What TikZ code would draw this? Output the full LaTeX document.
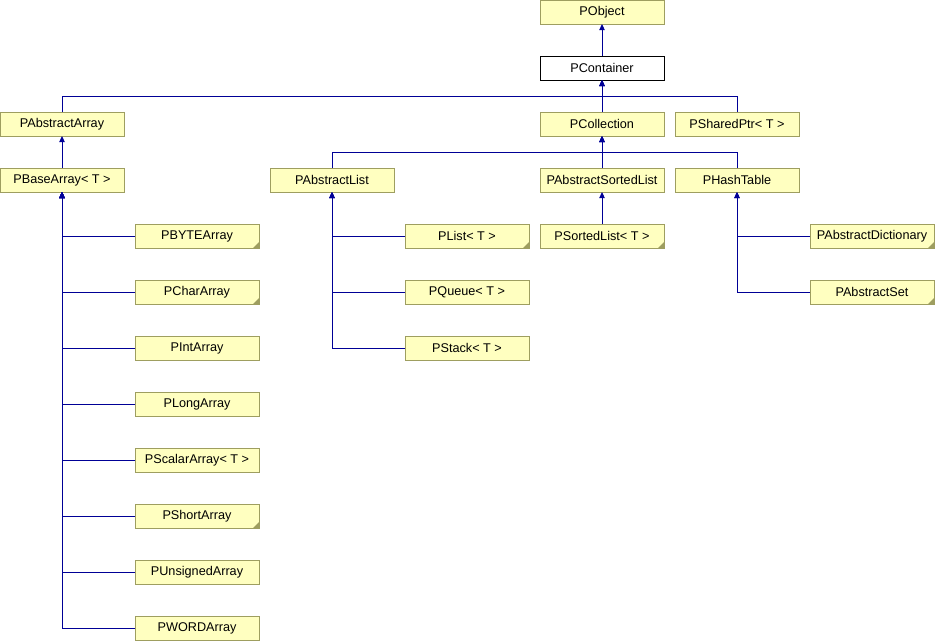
\documentclass[tikz,border=0pt]{standalone}
\usepackage{fontspec}
\setmainfont{Liberation Sans}
\usetikzlibrary{positioning,arrows.meta}

\definecolor{boxfill}{HTML}{FFFFC0}
\definecolor{boxline}{HTML}{9E9E60}
\definecolor{linkblue}{HTML}{000096}

\tikzset{
    klass/.style={draw=boxline, fill=boxfill, line width=0.75pt,
        minimum width=93pt, minimum height=18pt, inner sep=0pt, outer sep=0pt,
        font=\fontsize{9.5pt}{11pt}\selectfont},
    current/.style={klass, draw=black, fill=white},
    folded/.style={path picture={\fill[boxline] (path picture bounding box.south east)
        -- ++(-4.5pt,0) -- ++(4.5pt,4.5pt) -- cycle;}},
    isa/.style={draw=linkblue, line width=0.75pt, -{Triangle[width=4pt,length=4.5pt]}}
}

\begin{document}
\begin{tikzpicture}
        \useasboundingbox (0,0) rectangle (701.25pt,-480pt);

        \node [klass, anchor=north west] (obj) at (405pt,0) {PObject};
        \node [current, below=24pt of obj] (cont) {PContainer};
        \node [klass, below=24pt of cont] (coll) {PCollection};
        \node [klass, right=8.25pt of coll] (shptr) {PSharedPtr< T >};
        \node [klass, anchor=north west] (absarr) at (0,-84pt) {PAbstractArray};
        \node [klass, below=24pt of absarr] (basearr) {PBaseArray< T >};

        \node [klass, folded, below right=24pt and 8.25pt of basearr] (bytearr) {PBYTEArray};
        \node [klass, folded, below=24pt of bytearr] (chararr) {PCharArray};
        \node [klass, below=24pt of chararr] (intarr) {PIntArray};
        \node [klass, below=24pt of intarr] (longarr) {PLongArray};
        \node [klass, below=24pt of longarr] (scalarr) {PScalarArray< T >};
        \node [klass, folded, below=24pt of scalarr] (shortarr) {PShortArray};
        \node [klass, below=24pt of shortarr] (unsarr) {PUnsignedArray};
        \node [klass, below=24pt of unsarr] (wordarr) {PWORDArray};

        \node [klass, below=24pt of coll] (abssort) {PAbstractSortedList};
        \node [klass, left=109.5pt of abssort] (abslist) {PAbstractList};
        \node [klass, right=8.25pt of abssort] (hash) {PHashTable};

        \node [klass, folded, below right=24pt and 8.25pt of abslist] (list) {PList< T >};
        \node [klass, below=24pt of list] (queue) {PQueue< T >};
        \node [klass, below=24pt of queue] (stack) {PStack< T >};
        \node [klass, folded, below=24pt of abssort] (sorted) {PSortedList< T >};
        \node [klass, folded, below right=24pt and 8.25pt of hash] (dict) {PAbstractDictionary};
        \node [klass, folded, below=24pt of dict] (set) {PAbstractSet};

        \draw [isa] (cont) -- (obj);
        \draw [isa] (coll) -- (cont);
        \draw [isa] (absarr.north) |- ([yshift=-12pt]cont.south) -- (cont.south);
        \draw [isa] (shptr.north) |- ([yshift=-12pt]cont.south) -- (cont.south);
        \draw [isa] (basearr) -- (absarr);

        \draw [isa] (bytearr.west) -| (basearr.south);
        \draw [isa] (chararr.west) -| (basearr.south);
        \draw [isa] (intarr.west) -| (basearr.south);
        \draw [isa] (longarr.west) -| (basearr.south);
        \draw [isa] (scalarr.west) -| (basearr.south);
        \draw [isa] (shortarr.west) -| (basearr.south);
        \draw [isa] (unsarr.west) -| (basearr.south);
        \draw [isa] (wordarr.west) -| (basearr.south);

        \draw [isa] (abssort) -- (coll);
        \draw [isa] (abslist.north) |- ([yshift=-12pt]coll.south) -- (coll.south);
        \draw [isa] (hash.north) |- ([yshift=-12pt]coll.south) -- (coll.south);

        \draw [isa] (list.west) -| (abslist.south);
        \draw [isa] (queue.west) -| (abslist.south);
        \draw [isa] (stack.west) -| (abslist.south);
        \draw [isa] (sorted) -- (abssort);
        \draw [isa] (dict.west) -| (hash.south);
        \draw [isa] (set.west) -| (hash.south);
\end{tikzpicture}
\end{document}
